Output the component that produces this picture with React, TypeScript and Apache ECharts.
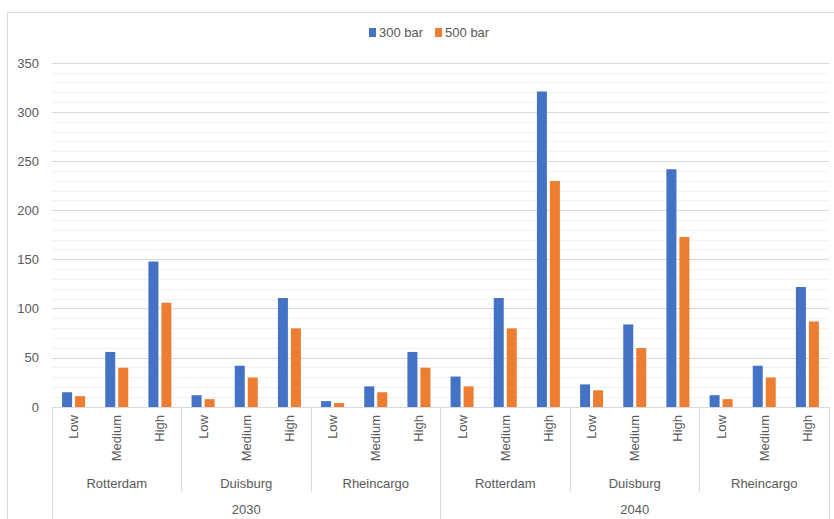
import React, { useEffect, useRef } from "react";
import * as echarts from "echarts";

const years = ["2030", "2040"];
const locations = ["Rotterdam", "Duisburg", "Rheincargo"];
const levels = ["Low", "Medium", "High"];
const series300 = [15, 56, 148, 12, 42, 111, 6, 21, 56, 31, 111, 321, 23, 84, 242, 12, 42, 122];
const series500 = [11, 40, 106, 8, 30, 80, 4, 15, 40, 21, 80, 230, 17, 60, 173, 8, 30, 87];
const yTicks = { min: 0, max: 350, interval: 50 };

const FONT = "'Liberation Sans', Arial, sans-serif";
const TEXT = "#595959";
const LINE = "#d9d9d9";

export default function App() {
  const ref = useRef<HTMLDivElement>(null);
  useEffect(() => {
    if (!ref.current) return;
    const chart = echarts.init(ref.current, undefined, { renderer: "svg" });
    const levelCats: string[] = [];
    const locCats: string[] = [];
    years.forEach((y) =>
      locations.forEach((l) => {
        locCats.push(l + "|" + y);
        levels.forEach((lv) => levelCats.push(lv + "|" + l + "|" + y));
      })
    );
    chart.setOption({
      animation: false,
      textStyle: { fontFamily: FONT },
      graphic: [
        {
          type: "rect",
          left: 5,
          top: 10,
          shape: { width: 860, height: 540 },
          style: { fill: "none", stroke: LINE, lineWidth: 1 },
          silent: true,
        },
      ],
      legend: {
        left: 364,
        top: 21,
        itemWidth: 7,
        itemHeight: 9,
        itemGap: 12,
        icon: "rect",
        textStyle: { color: TEXT, fontSize: 13, fontFamily: FONT, padding: [0, 0, 0, -2] },
        data: ["300 bar", "500 bar"],
      },
      grid: { left: 52, right: 5, top: 63, bottom: 112, containLabel: false },
      xAxis: [
        {
          type: "category",
          data: levelCats,
          position: "bottom",
          axisLine: { lineStyle: { color: LINE } },
          axisTick: {
            show: true,
            length: 85,
            interval: (i: number) => i % 3 === 0,
            lineStyle: { color: LINE },
          },
          axisLabel: {
            rotate: 90,
            interval: 0,
            margin: 8,
            color: TEXT,
            fontSize: 13,
            fontFamily: FONT,
            formatter: (v: string) => v.split("|")[0],
          },
        },
        {
          type: "category",
          data: locCats,
          position: "bottom",
          axisLine: { show: false },
          axisTick: { show: false },
          axisLabel: {
            interval: 0,
            margin: 70,
            color: TEXT,
            fontSize: 13,
            fontFamily: FONT,
            formatter: (v: string) => v.split("|")[0],
          },
        },
        {
          type: "category",
          data: years,
          position: "bottom",
          axisLine: { show: false },
          axisTick: { show: true, length: 112, interval: 0, lineStyle: { color: LINE } },
          axisLabel: {
            interval: 0,
            margin: 96,
            color: TEXT,
            fontSize: 13,
            fontFamily: FONT,
          },
        },
      ],
      yAxis: {
        type: "value",
        min: yTicks.min,
        max: yTicks.max,
        interval: yTicks.interval,
        axisLine: { show: false },
        axisTick: { show: false },
        axisLabel: { color: TEXT, fontSize: 13, fontFamily: FONT, margin: 13 },
        splitLine: { lineStyle: { color: LINE } },
        minorTick: { show: false, splitNumber: 5 },
        minorSplitLine: { show: true, lineStyle: { color: "#f2f2f2" } },
      },
      series: [
        {
          name: "300 bar",
          type: "bar",
          xAxisIndex: 0,
          data: series300,
          barWidth: 10,
          barGap: "30%",
          itemStyle: { color: "#4472C4" },
        },
        {
          name: "500 bar",
          type: "bar",
          xAxisIndex: 0,
          data: series500,
          barWidth: 10,
          barGap: "30%",
          itemStyle: { color: "#ED7D31" },
        },
      ],
    });
    return () => chart.dispose();
  }, []);
  return (
    <div
      ref={ref}
      style={{ position: "absolute", left: 0, top: 0, width: 834, height: 519, background: "#fff" }}
    />
  );
}
